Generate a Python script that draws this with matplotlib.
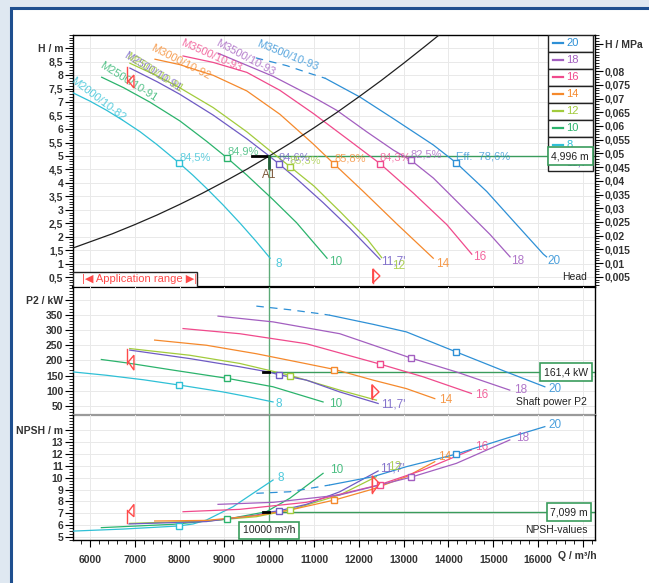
import numpy as np
import matplotlib
matplotlib.use("Agg")
import matplotlib.pyplot as plt
from matplotlib.patches import Rectangle, Polygon
from matplotlib.ticker import FixedLocator, MultipleLocator, FuncFormatter

plt.rcParams['font.family'] = ['Liberation Sans', 'DejaVu Sans']

# ---------------- data ----------------
# head curves  (Q in m3/h, H in m)
q_h8 = [5620, 6000, 6370, 6740, 7120, 7490, 7990, 8300, 8600, 8970, 9350, 9700, 10020]
h_8 = [7.35, 7.04, 6.70, 6.32, 5.90, 5.43, 4.74, 4.28, 3.80, 3.18, 2.50, 1.84, 1.20]
q_h10 = [6260, 6750, 7340, 8010, 8600, 9060, 9500, 10090, 10610, 11290]
h_10 = [7.93, 7.54, 7.00, 6.30, 5.55, 4.93, 4.29, 3.37, 2.52, 1.20]
q_h117 = [6890, 7500, 8000, 8750, 9500, 10000, 10200, 10600, 11200, 11800, 12400, 12470]
h_117 = [8.27, 7.76, 7.30, 6.52, 5.64, 5.00, 4.73, 4.17, 3.27, 2.31, 1.28, 1.16]
q_h12 = [6890, 7500, 8000, 8750, 9500, 10000, 10460, 11000, 11600, 12200, 12510]
h_12 = [8.45, 7.98, 7.54, 6.80, 5.90, 5.22, 4.61, 3.88, 2.90, 1.88, 1.22]
q_h14 = [7450, 8000, 8750, 9500, 10240, 10980, 11450, 12100, 12850, 13660]
h_14 = [8.60, 8.40, 8.00, 7.42, 6.55, 5.45, 4.70, 3.68, 2.47, 1.20]
q_h16 = [8076, 8750, 9500, 10240, 10985, 11730, 12470, 13217, 13962, 14520]
h_16 = [8.72, 8.48, 8.11, 7.44, 6.58, 5.65, 4.72, 3.62, 2.45, 1.35]
q_h18 = [8860, 10092, 10985, 11506, 12176, 12770, 13165, 13663, 14333, 14929, 15375]
h_18 = [8.82, 7.96, 7.19, 6.70, 5.90, 5.22, 4.84, 4.18, 3.07, 2.08, 1.25]
q_h20_dash = [9700, 10390, 10910, 11250]
h_20_dash = [8.65, 8.36, 8.07, 7.89]
q_h20 = [11250, 12027, 12770, 13663, 14170, 14855, 15450, 16118, 16190]
h_20 = [7.89, 7.19, 6.39, 5.41, 4.75, 3.68, 2.58, 1.35, 1.25]

# system curve
q_sys = [5620, 6500, 7000, 7500, 8000, 8500, 9000, 9500, 10000, 10500, 11000, 11500, 12000, 12500, 13000, 13500, 13790]
h_sys = [1.58, 2.11, 2.45, 2.81, 3.20, 3.61, 4.05, 4.51, 5.00, 5.51, 6.05, 6.61, 7.20, 7.81, 8.45, 9.11, 9.50]

# shaft power curves (kW)
q_p8 = [5620, 6365, 7200, 7979, 8969, 9500, 10085]
p_8 = [162, 151, 136, 119, 96, 81, 63]
q_p10 = [6253, 6810, 7853, 9058, 10085, 11201]
p_10 = [203, 192, 168, 141, 113, 63]
q_p117 = [6886, 8225, 9341, 10000, 10210, 10830, 11574, 12430]
p_117 = [234, 206, 179, 161.4, 153, 135, 96, 58]
q_p12 = [6886, 8225, 9341, 10458, 11574, 12391]
p_12 = [239, 217, 190, 151, 102, 69]
q_p14 = [7442, 8597, 9712, 10828, 11462, 12317, 13060, 13694]
p_14 = [267, 250, 222, 189, 170, 135, 107, 74]
q_p16 = [8076, 9341, 10828, 12444, 13433, 14511]
p_16 = [305, 288, 255, 189, 146, 91]
q_p18 = [8857, 10085, 11574, 13158, 14176, 15368]
p_18 = [346, 327, 288, 208, 162, 102]
q_p20_dash = [9712, 10458, 11127, 11350]
p_20_dash = [379, 367, 354, 349]
q_p20 = [11350, 12317, 13060, 14154, 15292, 16150]
p_20 = [349, 319, 294, 229, 162, 113]

# NPSH curves (m)
q_n8 = [5620, 6737, 7979, 8300, 8597, 9192, 9638, 10085]
n_8 = [5.50, 5.67, 5.93, 6.10, 6.43, 7.55, 8.68, 9.80]
q_n10 = [6253, 7853, 9058, 9935, 10458, 11201]
n_10 = [5.79, 6.07, 6.51, 7.13, 8.26, 10.36]
q_n117 = [6870, 8597, 9712, 10000, 10210, 10828, 11574, 12430]
n_117 = [6.10, 6.30, 6.85, 7.099, 7.20, 7.75, 8.81, 10.56]
q_n12 = [6886, 8597, 9712, 10458, 11574, 12391]
n_12 = [6.15, 6.35, 6.71, 7.27, 8.54, 10.08]
q_n14 = [7442, 8597, 9712, 10458, 11462, 12317, 13060, 13694]
n_14 = [6.35, 6.40, 6.80, 7.27, 8.12, 9.04, 10.08, 11.34]
q_n16 = [8076, 9341, 10828, 12444, 13433, 14511]
n_16 = [7.13, 7.33, 7.92, 9.38, 10.64, 12.33]
q_n18 = [8857, 10085, 11574, 13158, 14176, 15368]
n_18 = [7.75, 7.92, 8.54, 10.03, 11.20, 13.17]
q_n20_dash = [9712, 10458, 11127, 11350]
n_20_dash = [8.68, 8.81, 9.24, 9.38]
q_n20 = [11350, 12317, 13060, 14154, 15292, 16150]
n_20 = [9.38, 10.08, 10.92, 11.96, 13.31, 14.29]

# best efficiency points
eff_names = ['8', '10', "11,7'", '12', '14', '16', '18', '20']
eff_q = [7990, 9060, 10210, 10460, 11450, 12470, 13160, 14160]
eff_h = [4.74, 4.93, 4.72, 4.61, 4.70, 4.72, 4.84, 4.75]
eff_p = [119, 141, 153, 150, 170, 189, 208, 229]
eff_n = [5.93, 6.51, 7.20, 7.30, 8.12, 9.38, 10.03, 11.96]
eff_text = ['84,5%', '84,9%', '84,6%', '85,3%', '85,8%', '84,3%', '82,5%', 'Eff.  78,6%']

# model names
model_names = ['M2000/10-82', 'M2500/10-91', 'M2500/10-91', 'M2500/10-91', 'M3000/10-92',
               'M3500/10-93', 'M3500/10-93', 'M3500/10-93']

# duty point
q_duty = 10000
h_duty = 4.996
p_duty = 161.4
n_duty = 7.099

legend_names = ['20', '18', '16', '14', '12', '10', '8', "11,7'"]

colors = {'8': '#2fc0d6', '10': '#2bb36c', "11,7'": '#6f5bc4', '12': '#a2cb3c',
          '14': '#f5892c', '16': '#f04a8c', '18': '#a35fc0', '20': '#2e90d6'}
GREEN = '#3a9c5c'
RED = '#ff4a4a'

# ---------------- figure ----------------
W, H = 649, 583
fig = plt.figure(figsize=(W / 100, H / 100), dpi=100, facecolor='#dfe8f1')
fig.patches.append(Rectangle((11 / W, -0.05), 1.0, 1 - 8 / H + 0.05, transform=fig.transFigure,
                             fc='white', ec='#1e4f8f', lw=2.2, zorder=-10))

left, right = 73 / W, 595 / W
def box(top, bot):
    return [left, 1 - bot / H, right - left, (bot - top) / H]

ax_h = fig.add_axes(box(35, 287))
ax_p = fig.add_axes(box(287, 415), sharex=ax_h)
ax_n = fig.add_axes(box(415, 540), sharex=ax_h)

ax_h.set_xlim(5620, 17270)
ax_h.set_ylim(0.13, 9.5)
ax_p.set_ylim(20, 442)
ax_n.set_ylim(4.75, 15.27)

def comma(v):
    s = f'{v:.4f}'.rstrip('0').rstrip('.')
    return s.replace('.', ',')

tick_font = dict(labelsize=7.5, labelcolor='#333333')
for ax in (ax_h, ax_p, ax_n):
    ax.set_facecolor('none')
    ax.grid(True, which='major', color='#e9e9e9', lw=0.7)
    ax.set_axisbelow(True)
    ax.tick_params(axis='y', which='major', direction='out', length=6, width=0.8, pad=1, **tick_font)
    ax.tick_params(axis='y', which='minor', direction='out', length=3, width=0.6)
    ax.xaxis.set_major_locator(MultipleLocator(1000))
    for sp in ax.spines.values():
        sp.set_color('black')
        sp.set_linewidth(1.0)

ax_h.tick_params(axis='x', which='both', bottom=False, labelbottom=False)
ax_p.tick_params(axis='x', which='both', bottom=False, labelbottom=False)

# head y ticks
ax_h.yaxis.set_major_locator(FixedLocator(list(np.arange(0.5, 8.51, 0.5)) + [9.0]))
ax_h.yaxis.set_minor_locator(MultipleLocator(0.1))
ax_h.yaxis.set_major_formatter(FuncFormatter(lambda v, p: 'H / m' if abs(v - 9) < 1e-6 else comma(v)))
ax_p.yaxis.set_major_locator(FixedLocator(list(range(50, 351, 50)) + [400]))
ax_p.yaxis.set_minor_locator(MultipleLocator(10))
ax_p.yaxis.set_major_formatter(FuncFormatter(lambda v, p: 'P2 / kW' if v > 380 else comma(v)))
ax_n.yaxis.set_major_locator(FixedLocator(list(range(5, 14)) + [14]))
ax_n.yaxis.set_minor_locator(MultipleLocator(0.25))
ax_n.yaxis.set_major_formatter(FuncFormatter(lambda v, p: 'NPSH / m' if v > 13.5 else comma(v)))

# x ticks on bottom panel
ax_n.xaxis.set_major_locator(FixedLocator(list(range(6000, 17001, 1000))))
ax_n.xaxis.set_minor_locator(MultipleLocator(200))
ax_n.xaxis.set_major_formatter(FuncFormatter(lambda v, p: '' if v > 16500 else f'{v:.0f}'))
ax_n.tick_params(axis='x', which='major', direction='out', length=5, width=0.8, pad=6, **tick_font)
ax_n.tick_params(axis='x', which='minor', direction='out', length=3, width=0.6)
ax_n.text(16870, -0.13, 'Q / m³/h', transform=ax_n.get_xaxis_transform(), ha='center', va='center',
          fontsize=7.5, fontweight='bold', color='#333333')

# panel separators
ax_h.spines['bottom'].set_linewidth(1.6)
ax_p.spines['top'].set_visible(False)
ax_p.spines['bottom'].set_color('#9a9a9a')
ax_p.spines['bottom'].set_linewidth(1.6)
ax_n.spines['top'].set_visible(False)

# right MPa axis
ax_r = ax_h.twinx()
ax_r.set_ylim(0.13 * 0.00980665, 9.5 * 0.00980665)
ax_r.yaxis.set_major_locator(FixedLocator([round(v, 3) for v in np.arange(0.005, 0.0801, 0.005)] + [0.09]))
ax_r.yaxis.set_minor_locator(MultipleLocator(0.001))
ax_r.yaxis.set_major_formatter(FuncFormatter(lambda v, p: 'H / MPa' if v > 0.085 else comma(v)))
ax_r.tick_params(axis='y', which='major', direction='out', length=6, width=0.8, pad=1, **tick_font)
ax_r.tick_params(axis='y', which='minor', direction='out', length=3, width=0.6)
for sp in ax_r.spines.values():
    sp.set_visible(False)

for ax in (ax_h, ax_p, ax_n, ax_r):
    for lab in ax.get_yticklabels() + ax.get_xticklabels():
        lab.set_fontweight('bold')

# ---------------- curves ----------------
head = {'8': (q_h8, h_8), '10': (q_h10, h_10), "11,7'": (q_h117, h_117), '12': (q_h12, h_12),
        '14': (q_h14, h_14), '16': (q_h16, h_16), '18': (q_h18, h_18), '20': (q_h20, h_20)}
power = {'8': (q_p8, p_8), '10': (q_p10, p_10), "11,7'": (q_p117, p_117), '12': (q_p12, p_12),
         '14': (q_p14, p_14), '16': (q_p16, p_16), '18': (q_p18, p_18), '20': (q_p20, p_20)}
npsh = {'8': (q_n8, n_8), '10': (q_n10, n_10), "11,7'": (q_n117, n_117), '12': (q_n12, n_12),
        '14': (q_n14, n_14), '16': (q_n16, n_16), '18': (q_n18, n_18), '20': (q_n20, n_20)}

lw = 0.9
for ax, dset in ((ax_h, head), (ax_p, power), (ax_n, npsh)):
    for name in ['8', '10', '12', "11,7'", '14', '16', '18', '20']:
        q, v = dset[name]
        ax.plot(q, v, color=colors[name], lw=lw, zorder=3)
ax_h.plot(q_h20_dash, h_20_dash, color=colors['20'], lw=lw, ls=(0, (6, 5)), zorder=3)
ax_p.plot(q_p20_dash, p_20_dash, color=colors['20'], lw=lw, ls=(0, (6, 5)), zorder=3)
ax_n.plot(q_n20_dash, n_20_dash, color=colors['20'], lw=lw, ls=(0, (6, 5)), zorder=3)

ax_h.plot(q_sys, h_sys, color='#202020', lw=0.9, zorder=3)

# efficiency squares and labels
for i, name in enumerate(eff_names):
    c = colors[name]
    for ax, v in ((ax_h, eff_h[i]), (ax_p, eff_p[i]), (ax_n, eff_n[i])):
        ax.plot(eff_q[i], v, marker='s', ms=4.5, mfc='white', mec=c, mew=1.0, zorder=4)
    ax_h.text(eff_q[i], eff_h[i] + 0.22, eff_text[i], color=c, alpha=0.75, fontsize=8,
              ha='left', va='center', zorder=4)

# curve end labels
end_h = {'8': (10150, 1.0), '10': (11335, 1.06), "11,7'": (12495, 1.06), '12': (12740, 0.91),
         '14': (13723, 0.99), '16': (14550, 1.25), '18': (15400, 1.1), '20': (16200, 1.1)}
end_p = {'8': (10150, 57), '10': (11340, 57), "11,7'": (12495, 55), '14': (13800, 68),
         '16': (14600, 85), '18': (15460, 104), '20': (16240, 107)}
end_n = {'8': (10180, 9.95), '10': (11360, 10.64), "11,7'": (12470, 10.8), '12': (12650, 10.92),
         '14': (13770, 11.76), '16': (14600, 12.55), '18': (15500, 13.31), '20': (16240, 14.43)}
for ax, ends in ((ax_h, end_h), (ax_p, end_p), (ax_n, end_n)):
    for name, (q, v) in ends.items():
        ax.text(q, v, name, color=colors[name], fontsize=8.5, alpha=0.85, ha='left', va='center', zorder=4)

# model names along the curves
model_pos = [(6180, 7.12, -37, '8'), (6850, 7.75, -32, '10'), (7384, 8.12, -32, "11,7'"),
             (7440, 8.10, -32, '12'), (8031, 8.49, -27, '14'), (8700, 8.75, -24, '16'),
             (9460, 8.64, -28, '18'), (10400, 8.75, -22, '20')]
for txt, (q, v, rot, name) in zip(model_names, model_pos):
    ax_h.text(q, v, txt, color=colors[name], fontsize=8, alpha=0.8, rotation=rot,
              rotation_mode='anchor', ha='center', va='center', zorder=4)

# ---------------- duty point ----------------
ax_h.plot([q_duty, 17270], [h_duty, h_duty], color=GREEN, lw=1.0, zorder=2)
ax_h.plot([q_duty, q_duty], [0.13, h_duty], color=GREEN, lw=1.0, zorder=2, alpha=0.8)
ax_h.plot([9620, q_duty], [h_duty, h_duty], color='black', lw=2.0, zorder=5)
ax_h.plot([q_duty, q_duty], [h_duty, 4.55], color='#1f5f35', lw=2.0, zorder=5)
ax_h.text(q_duty, 4.3, 'A1', color='#7d5a3c', fontsize=8.5, ha='center', va='center', zorder=5)
ax_p.axvline(q_duty, color=GREEN, lw=1.0, alpha=0.8, zorder=2)
ax_p.plot([q_duty, 17270], [p_duty, p_duty], color=GREEN, lw=1.0, zorder=2)
ax_p.plot([9850, q_duty], [p_duty, p_duty], color='black', lw=2.0, zorder=5)
ax_n.axvline(q_duty, color=GREEN, lw=1.0, alpha=0.8, zorder=2)
ax_n.plot([q_duty, 17270], [n_duty, n_duty], color=GREEN, lw=1.0, zorder=2)
ax_n.plot([9850, q_duty], [n_duty, n_duty], color='black', lw=2.0, zorder=5)

bbox = dict(boxstyle='square,pad=0.35', fc='white', ec=GREEN, lw=1.2)
ax_h.text(16714, h_duty, comma(h_duty) + ' m', fontsize=7.5, color='#222222', ha='center', va='center',
          bbox=bbox, zorder=8)
ax_p.text(16625, p_duty, comma(p_duty) + ' kW', fontsize=7.5, color='#222222', ha='center', va='center',
          bbox=bbox, zorder=8)
ax_n.text(16690, n_duty, comma(n_duty) + ' m', fontsize=7.5, color='#222222', ha='center', va='center',
          bbox=bbox, zorder=8)
ax_n.text(q_duty, 5.55, f'{q_duty} m³/h', fontsize=7.5, color='#222222', ha='center', va='center',
          bbox=bbox, zorder=8)

# ---------------- legend box ----------------
row_h = 16.96 / 252
lx0 = (547.7 - 73) / 522
lw_box = (593 - 547.7) / 522
for i, name in enumerate(legend_names):
    ytop = (287 - 35) / 252 - i * row_h
    ax_h.add_patch(Rectangle((lx0, ytop - row_h), lw_box, row_h, transform=ax_h.transAxes,
                             fc='white', ec='#222222', lw=1.0, zorder=6))
    yc = ytop - row_h / 2
    ax_h.plot([lx0 + 0.011, lx0 + 0.03], [yc, yc], transform=ax_h.transAxes, color=colors[name],
              lw=1.6, zorder=7)
    ax_h.text(lx0 + 0.036, yc, name, transform=ax_h.transAxes, color=colors[name], fontsize=8,
              ha='left', va='center', zorder=7)

# ---------------- application range ----------------
ax_h.add_patch(Rectangle((0, 0), (197 - 73) / 522, 15 / 252, transform=ax_h.transAxes,
                         fc='white', ec='#222222', lw=1.0, zorder=6))
ax_h.text(9 / 522, 7.5 / 252, '|◀ Application range ▶|', transform=ax_h.transAxes, color=RED,
          fontsize=8, ha='left', va='center', zorder=7)

def left_marker(ax, q, v_top, v_bot, tri_top, tri_bot, apex):
    ax.plot([q, q], [v_top, v_bot], color=RED, lw=1.0, zorder=5)
    ax.add_patch(Polygon([[q + 25, apex], [q + 150, tri_top], [q + 150, tri_bot]], closed=True,
                         fill=False, ec=RED, lw=1.0, zorder=5))

def right_marker(ax, q, v_top, v_bot, apex):
    ax.plot([q, q], [v_top, v_bot], color=RED, lw=1.0, zorder=5)
    ax.add_patch(Polygon([[q, v_top], [q, v_bot], [q + 160, apex]], closed=True,
                         fill=False, ec=RED, lw=1.0, zorder=5))

left_marker(ax_h, 6830, 8.31, 7.71, 8.01, 7.53, 7.79)
left_marker(ax_p, 6830, 239, 188, 217, 168, 195)
left_marker(ax_n, 6830, 7.27, 6.15, 7.75, 6.71, 7.13)
right_marker(ax_h, 12310, 0.80, 0.28, 0.54)
right_marker(ax_p, 12290, 120, 74, 96)
right_marker(ax_n, 12300, 10.14, 8.68, 9.50)

# panel titles
ax_h.text(0.985, 0.04, 'Head', transform=ax_h.transAxes, fontsize=7.5, color='#222222', ha='right', va='center')
ax_p.text(0.985, 0.1, 'Shaft power P2', transform=ax_p.transAxes, fontsize=7.5, color='#222222',
          ha='right', va='center')
ax_n.text(0.985, 0.08, 'NPSH-values', transform=ax_n.transAxes, fontsize=7.5, color='#222222',
          ha='right', va='center')

fig.savefig('out.png', dpi=100, facecolor=fig.get_facecolor())
